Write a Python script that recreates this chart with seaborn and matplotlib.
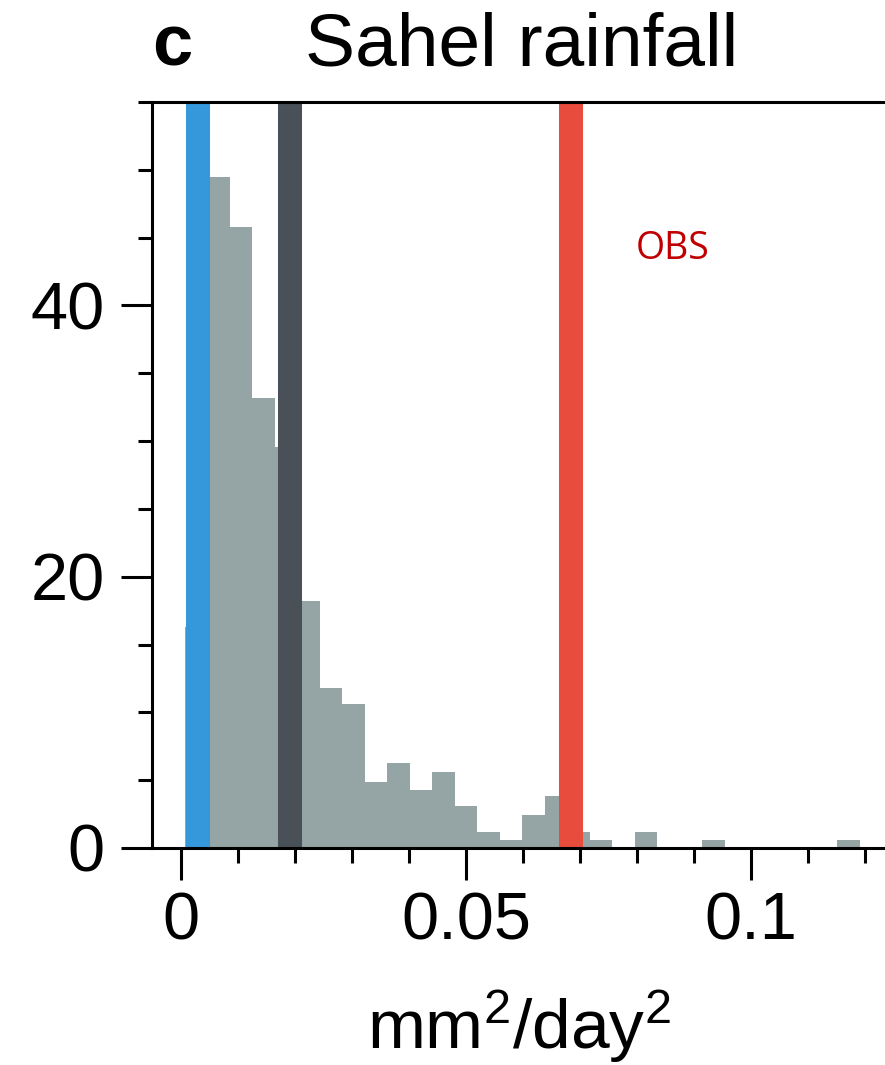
import numpy as np
import pandas as pd
import matplotlib
matplotlib.use("Agg")
import matplotlib.pyplot as plt
import seaborn as sns
from matplotlib.ticker import MultipleLocator

# histogram values (bin centres in mm2/day2, counts)
bin_centers = [0.0026, 0.0065, 0.0105, 0.0144, 0.0184, 0.0223, 0.0263, 0.0302,
               0.0342, 0.0381, 0.0421, 0.0460, 0.0500, 0.0539, 0.0579, 0.0618,
               0.0658, 0.0697, 0.0737, 0.0816, 0.0934, 0.1171]
counts = [16.3, 49.5, 45.8, 33.2, 29.6, 18.2, 11.8, 10.6,
          4.9, 6.25, 4.3, 5.6, 3.1, 1.2, 0.6, 2.4,
          3.8, 1.2, 0.6, 1.2, 0.6, 0.6]
bin_width = 0.00395
bin_start = 0.00058

# vertical reference lines
line_x = [0.0030, 0.0191, 0.0684]
line_colors = ["#3498db", "#4a5058", "#e74c3c"]

x_ticks = [0, 0.05, 0.1]
x_tick_labels = ["0", "0.05", "0.1"]
y_ticks = [0, 20, 40]

df = pd.DataFrame({"var": bin_centers, "n": counts})

sns.set_style("ticks", {"axes.edgecolor": "black", "text.color": "black",
                        "xtick.color": "black", "ytick.color": "black",
                        "axes.labelcolor": "black"})
plt.rcParams["font.family"] = ["Liberation Sans", "DejaVu Sans"]
plt.rcParams["mathtext.fontset"] = "custom"
plt.rcParams["mathtext.rm"] = "Liberation Sans"
plt.rcParams["mathtext.it"] = "Liberation Sans"

fig = plt.figure(figsize=(8.85, 10.65), dpi=100)
ax = fig.add_axes([152 / 885, 1 - 848 / 1065, 1 - 152 / 885, (848 - 102) / 1065])

sns.histplot(data=df, x="var", weights="n", binwidth=bin_width,
             binrange=(bin_start, bin_start + 30 * bin_width),
             color="#95a5a6", alpha=1, linewidth=0, ax=ax)

for xv, c in zip(line_x, line_colors):
    ax.axvline(xv, color=c, lw=17.3, zorder=3)

ax.set_xlim(-0.00514, 0.1235)
ax.set_ylim(0, 55)

ax.set_xticks(x_ticks, x_tick_labels)
ax.set_yticks(y_ticks, [str(v) for v in y_ticks])
ax.xaxis.set_minor_locator(MultipleLocator(0.01))
ax.yaxis.set_minor_locator(MultipleLocator(5))

ax.tick_params(axis="x", which="major", length=23, width=2.2, labelsize=48, pad=8)
ax.tick_params(axis="x", which="minor", length=11, width=2.2)
ax.tick_params(axis="y", which="major", length=22, width=2.2, labelsize=48, pad=12)
ax.tick_params(axis="y", which="minor", length=10, width=2.2)

for side in ["left", "bottom", "top"]:
    ax.spines[side].set_linewidth(2.2)
    ax.spines[side].set_zorder(5)
ax.spines["right"].set_visible(False)

ax.set_ylabel("")
ax.set_xlabel("mm$^2$/day$^2$", fontsize=50, labelpad=25, color="black")

ax.text(0.0797, 43.4, "OBS", color="#c00000", fontsize=27,
        family=["Open Sans", "DejaVu Sans"], va="baseline", ha="left")

fig.text(152 / 885, 1 - 66 / 1065, "c", fontsize=52, fontweight="bold",
         ha="left", va="baseline", color="black")
fig.text(305 / 885, 1 - 66 / 1065, "Sahel rainfall", fontsize=54,
         ha="left", va="baseline", color="black")

fig.savefig("out.png", dpi=100)
